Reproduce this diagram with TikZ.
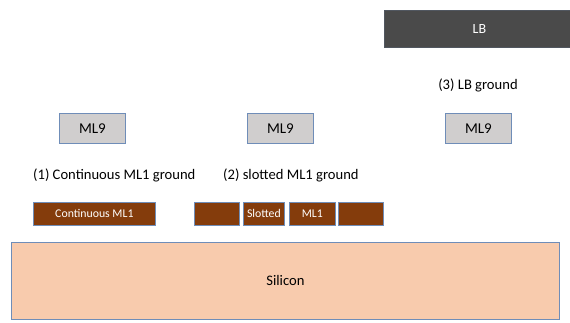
\documentclass[tikz,border=0pt]{standalone}
\usepackage{fontspec}
\setmainfont{Carlito}
\definecolor{brn}{HTML}{843C0C}
\definecolor{bord}{HTML}{6F8DB8}
\definecolor{sil}{HTML}{F8CBAD}
\definecolor{grayf}{HTML}{D0CECE}
\definecolor{lbf}{HTML}{4A4A4A}
\tikzset{
  box/.style={draw=bord, line width=0.8pt, inner sep=0pt, anchor=north west},
  ml9/.style={box, fill=grayf, minimum width=66pt, minimum height=30pt, font=\fontsize{15}{17}\selectfont},
  metal/.style={box, fill=brn, minimum height=23pt, text=white, font=\fontsize{11.8}{13}\selectfont},
  lbl/.style={font=\fontsize{14.6}{16}\selectfont, inner sep=0pt}
}
\begin{document}
\begin{tikzpicture}[x=1pt,y=-1pt]
\useasboundingbox (0,0) rectangle (570,322);
\node[box, fill=lbf, draw=lbf!80!bord, minimum width=190pt, minimum height=37pt, text=white, font=\fontsize{14}{16}\selectfont] (lb) at (384,10) {LB};
\node[lbl] (t3) at (478,85) {(3) LB ground};
\node[ml9] (m1) at (59,113) {ML9};
\node[ml9] (m2) at (247,113) {ML9};
\node[ml9] (m3) at (445,113) {ML9};
\node[lbl, anchor=west] (t1) at (33,175) {(1) Continuous ML1 ground};
\node[lbl, anchor=west] (t2) at (223,175) {(2) slotted ML1 ground};
\node[metal, minimum width=122pt] (c1) at (33,202) {Continuous ML1};
\node[metal, minimum width=45pt] (s1) at (194,202) {};
\node[metal, minimum width=41pt] (s2) at (243,202) {Slotted};
\node[metal, minimum width=46pt] (s3) at (289,202) {ML1};
\node[metal, minimum width=45pt] (s4) at (338,202) {};
\node[box, fill=sil, minimum width=548pt, minimum height=77pt, font=\fontsize{14.6}{16}\selectfont] (si) at (11,242) {Silicon};
\end{tikzpicture}
\end{document}
